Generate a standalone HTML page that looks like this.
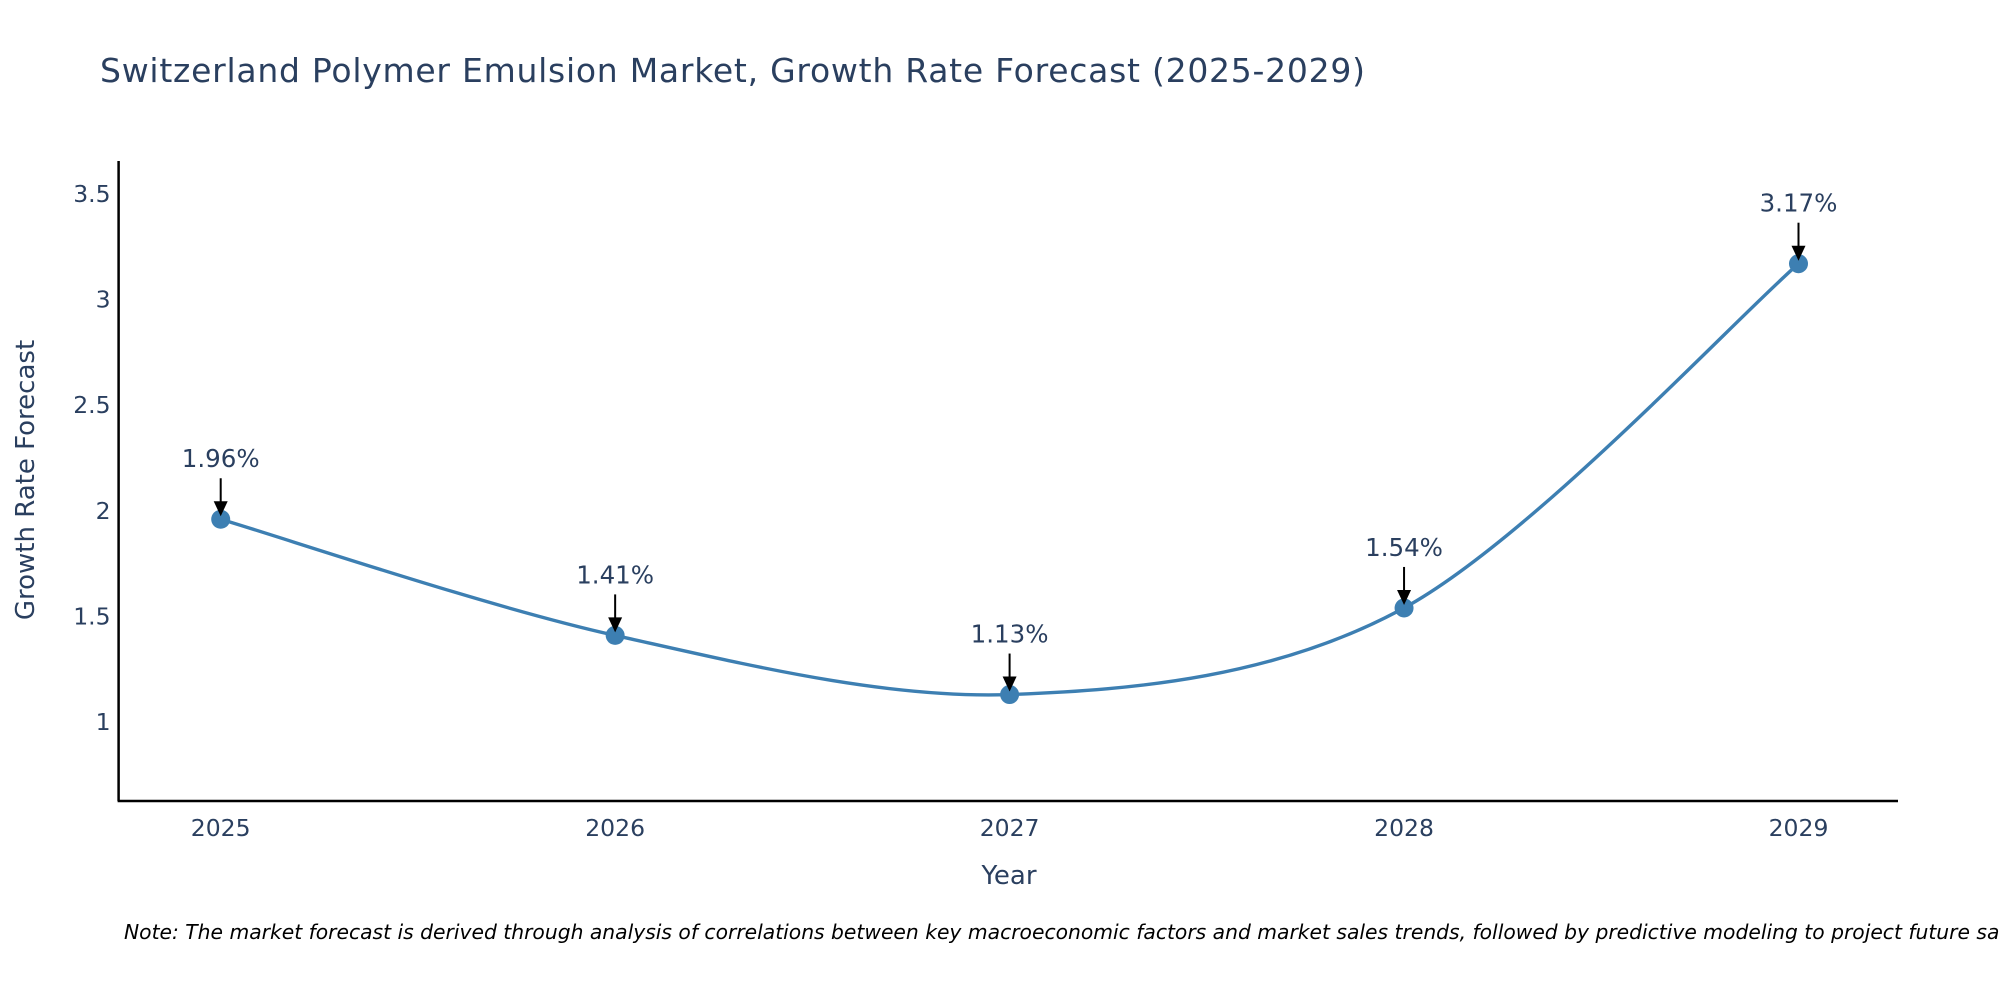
<!DOCTYPE html>
<html><head><meta charset="utf-8"><style>
html,body{margin:0;padding:0;background:#fff;}
svg{display:block;font-family:"DejaVu Sans","Liberation Sans",sans-serif;}
</style></head><body>
<svg id="chart" width="2000" height="1000" viewBox="0 0 2000 1000">
<text x="100" y="82" font-size="33" fill="#2a3f5f" textLength="1265">Switzerland Polymer Emulsion Market, Growth Rate Forecast (2025-2029)</text>
<g id="axes"></g>
<g id="series"></g>
<text transform="translate(34,480) rotate(-90)" text-anchor="middle" font-size="26" fill="#2a3f5f">Growth Rate Forecast</text>
<text x="1009" y="884" text-anchor="middle" font-size="26" fill="#2a3f5f">Year</text>
<text x="124" y="939" font-size="20.3" font-style="italic" fill="#000">Note: The market forecast is derived through analysis of correlations between key macroeconomic factors and market sales trends, followed by predictive modeling to project future sales.</text>
</svg>
<script>
const years = [2025, 2026, 2027, 2028, 2029];
const growthValues = [1.96, 1.41, 1.13, 1.54, 3.17];
const pointLabels = ["1.96%", "1.41%", "1.13%", "1.54%", "3.17%"];
const yTicks = [1, 1.5, 2, 2.5, 3, 3.5];
const yTickLabels = ["1", "1.5", "2", "2.5", "3", "3.5"];

const NS = "http://www.w3.org/2000/svg";
const L = 118.6, R = 1898, T = 161, B = 801;
function xs(yr){ return 220.7 + (yr - 2025) * 394.45; }
function ys(v){ return 722 - (v - 1) * 211.2; }
function mk(tag, attrs, parent){ const e = document.createElementNS(NS, tag); for (const k in attrs) e.setAttribute(k, attrs[k]); parent.appendChild(e); return e; }

const axes = document.getElementById('axes');
const yl = mk('line', {x1:L, y1:T, x2:L, y2:B, stroke:'#000', 'stroke-width':2.5}, axes);


const xl = mk('line', {x1:L-1, y1:B, x2:R, y2:B, stroke:'#000', 'stroke-width':2.5}, axes);


yTicks.forEach((v, i) => {
  const t = mk('text', {x:L-8, y:ys(v)+8, 'text-anchor':'end', 'font-size':23.5, fill:'#2a3f5f'}, axes);
  t.textContent = yTickLabels[i];
  
  
});
years.forEach(yr => {
  const t = mk('text', {x:xs(yr), y:836, 'text-anchor':'middle', 'font-size':23.5, fill:'#2a3f5f'}, axes);
  t.textContent = String(yr);
  
  
});

const series = document.getElementById('series');
const pts = years.map((yr, i) => [xs(yr), ys(growthValues[i])]);
let d = 'M' + pts[0][0] + ',' + pts[0][1];
const k = 0.16;
for (let i = 0; i < pts.length - 1; i++) {
  const p0 = pts[Math.max(0, i-1)], p1 = pts[i], p2 = pts[i+1], p3 = pts[Math.min(pts.length-1, i+2)];
  const c1 = [p1[0] + (p2[0]-p0[0])*k, p1[1] + (p2[1]-p0[1])*k];
  const c2 = [p2[0] - (p3[0]-p1[0])*k, p2[1] - (p3[1]-p1[1])*k];
  d += ' C' + c1[0] + ',' + c1[1] + ' ' + c2[0] + ',' + c2[1] + ' ' + p2[0] + ',' + p2[1];
}
const path = mk('path', {d:d, fill:'none', stroke:'#3d7fb2', 'stroke-width':3.4}, series);


pts.forEach((p, i) => {
  const c = mk('circle', {cx:p[0], cy:p[1], r:9.5, fill:'#3d7fb2'}, series);
  
  
  const a = mk('line', {x1:p[0], y1:p[1]-41, x2:p[0], y2:p[1]-14, stroke:'#000', 'stroke-width':2}, series);
  
  
  const h = mk('polygon', {points:(p[0]-7)+','+(p[1]-18)+' '+(p[0]+7)+','+(p[1]-18)+' '+p[0]+','+(p[1]-3), fill:'#000'}, series);
  
  
  const t = mk('text', {x:p[0], y:p[1]-52, 'text-anchor':'middle', 'font-size':24.5, fill:'#2a3f5f'}, series);
  t.textContent = pointLabels[i];
  
  
});
</script>
</body></html>
